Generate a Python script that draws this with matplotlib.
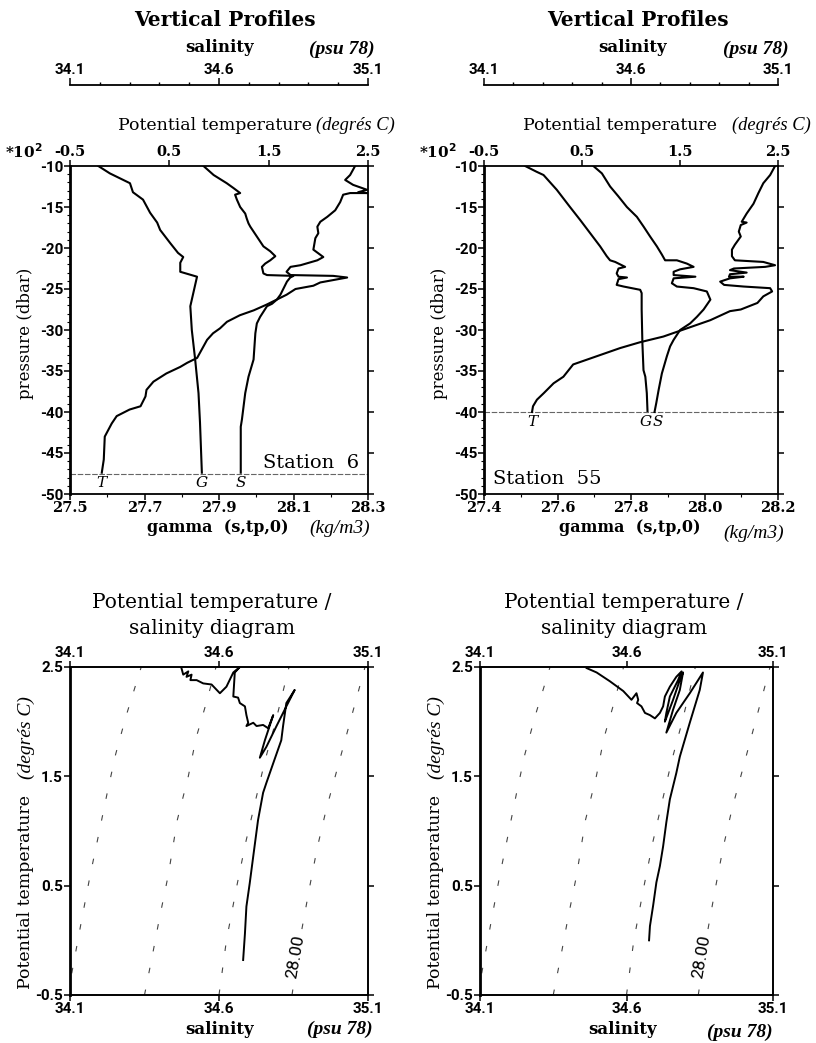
import matplotlib
matplotlib.use("Agg")
import matplotlib.pyplot as plt
from matplotlib.ticker import FixedLocator, MultipleLocator, FuncFormatter

plt.rcParams["axes.unicode_minus"] = False

SERIF = "DejaVu Serif"
SERIF_IT = "Liberation Serif"
NARROW = ["Liberation Sans Narrow", "Roboto", "DejaVu Sans"]
TICK_SIZE = 11

W, H = 816, 1043

# ---------------- Station 6 vertical profiles (pressure in 10^2 dbar) ----------------
st6_gamma = [27.576, 27.607, 27.661, 27.669, 27.696, 27.715, 27.734, 27.742, 27.769,
             27.790, 27.804, 27.796, 27.796, 27.841, 27.831, 27.823, 27.827, 27.836,
             27.845, 27.849, 27.854]
st6_gamma_p = [-10.0, -10.9, -12.1, -13.2, -14.1, -15.7, -16.9, -17.8, -19.4,
               -20.6, -21.1, -21.8, -22.9, -23.5, -25.5, -27.1, -30.0, -33.6,
               -37.7, -41.3, -47.4]

st6_sal = [34.548, 34.582, 34.626, 34.649, 34.671, 34.654, 34.660, 34.671, 34.688, 34.693,
           34.699, 34.705, 34.716, 34.727, 34.749, 34.772, 34.789, 34.772, 34.755, 34.744,
           34.749, 34.761, 34.850, 34.839, 34.828, 34.817, 34.806, 34.794, 34.778, 34.761,
           34.738, 34.727, 34.722, 34.716, 34.699, 34.688, 34.677, 34.673, 34.673]
st6_sal_p = [-10.0, -11.1, -12.1, -12.7, -13.3, -13.5, -14.1, -15.0, -15.8, -16.4,
             -17.0, -17.4, -18.0, -18.6, -19.8, -20.4, -21.0, -21.5, -21.9, -22.3,
             -23.1, -23.3, -23.4, -23.6, -24.1, -24.9, -25.7, -26.3, -26.8, -27.1,
             -28.4, -29.2, -30.4, -33.6, -35.7, -37.7, -40.9, -41.8, -47.4]

st6_theta = [2.37, 2.32, 2.27, 2.35, 2.49, 2.40, 2.49, 2.32, 2.25, 2.22,
             2.17, 2.09, 2.02, 1.99, 2.00, 1.97, 1.95, 2.05, 1.99, 1.82,
             1.72, 1.68, 1.72, 2.15, 2.29, 2.02, 1.95, 1.77, 1.68, 1.58,
             1.48, 1.35, 1.21, 1.08, 1.01, 0.94, 0.88, 0.78, 0.68, 0.61,
             0.47, 0.34, 0.27, 0.26, 0.21, 0.10, -0.03, -0.08, -0.15, -0.16, -0.18]
st6_theta_p = [-10.0, -11.1, -11.7, -12.3, -12.9, -13.2, -13.3, -13.3, -13.5, -14.4,
               -15.4, -16.2, -16.8, -17.4, -18.2, -18.8, -20.2, -21.1, -21.5, -22.1,
               -22.3, -22.9, -23.3, -23.4, -23.6, -24.2, -24.6, -25.0, -25.7, -26.3,
               -26.9, -27.6, -28.2, -29.0, -29.8, -30.4, -31.2, -33.4, -34.0, -34.5,
               -35.3, -36.3, -37.3, -38.1, -39.3, -39.7, -40.5, -41.4, -43.0, -45.8, -47.4]
st6_bottom = -47.5

# ---------------- Station 55 vertical profiles ----------------
st55_gamma = [27.512, 27.543, 27.562, 27.598, 27.634, 27.662, 27.689, 27.716, 27.734,
              27.743, 27.757, 27.784, 27.766, 27.761, 27.766, 27.789, 27.766, 27.761,
              27.780, 27.825, 27.829, 27.829, 27.831, 27.834, 27.839, 27.843, 27.845]
st55_gamma_p = [-10.0, -10.7, -11.1, -12.9, -15.0, -16.6, -18.2, -19.8, -21.0,
                -21.5, -21.7, -22.3, -22.5, -23.1, -23.5, -23.6, -23.8, -24.5,
                -24.7, -25.1, -25.5, -27.5, -31.6, -34.9, -35.7, -37.7, -40.0]

st55_sal = [34.472, 34.501, 34.529, 34.557, 34.586, 34.620, 34.643, 34.665, 34.688, 34.705,
            34.716, 34.756, 34.790, 34.813, 34.767, 34.745, 34.745, 34.819, 34.745, 34.739,
            34.756, 34.813, 34.858, 34.870, 34.847, 34.824, 34.801, 34.767, 34.745, 34.733,
            34.722, 34.705, 34.694, 34.686, 34.680]
st55_sal_p = [-10.0, -10.9, -12.5, -13.7, -15.0, -16.2, -17.4, -18.6, -19.8, -20.8,
              -21.5, -21.5, -21.9, -22.3, -22.6, -22.9, -23.3, -23.5, -23.7, -24.3,
              -24.7, -24.9, -25.3, -26.3, -27.5, -28.4, -29.2, -30.0, -31.2, -32.0,
              -33.2, -35.3, -37.3, -38.9, -40.0]

st55_theta = [2.47, 2.42, 2.35, 2.30, 2.25, 2.18, 2.15, 2.13, 2.18, 2.12,
              2.10, 2.12, 2.06, 2.03, 2.03, 2.06, 2.35, 2.47, 2.37, 2.05,
              2.01, 2.18, 2.01, 2.00, 2.15, 2.01, 1.91, 1.95, 2.15, 2.42,
              2.44, 2.35, 2.29, 2.12, 2.01, 1.81, 1.57, 1.33, 1.09, 0.89,
              0.65, 0.41, 0.31, 0.21, 0.11, 0.04, 0.00, -0.01]
st55_theta_p = [-10.0, -11.1, -12.1, -13.3, -14.6, -15.8, -16.4, -16.8, -16.9, -17.2,
                -18.0, -18.6, -19.6, -20.2, -21.0, -21.5, -21.7, -22.1, -22.3, -22.5,
                -22.7, -23.0, -23.2, -23.5, -23.5, -23.7, -24.1, -24.5, -24.7, -24.9,
                -25.3, -25.9, -26.7, -27.5, -27.7, -28.8, -29.8, -30.8, -31.5, -32.2,
                -33.2, -34.2, -35.7, -36.5, -37.7, -38.5, -39.3, -40.0]
st55_bottom = -40.0

# ---------------- Theta / salinity curves ----------------
ts6_sal = [34.474, 34.480, 34.497, 34.491, 34.508, 34.504, 34.525, 34.547, 34.575, 34.603,
           34.625, 34.648, 34.670, 34.653, 34.648, 34.664, 34.670, 34.687, 34.692, 34.698,
           34.692, 34.715, 34.726, 34.748, 34.765, 34.782, 34.754, 34.737, 34.759, 34.793,
           34.826, 34.854, 34.826, 34.815, 34.809, 34.782, 34.759, 34.748, 34.731, 34.715,
           34.703, 34.692, 34.687, 34.681]
ts6_theta = [2.49, 2.43, 2.46, 2.41, 2.43, 2.38, 2.38, 2.35, 2.34, 2.26,
             2.32, 2.45, 2.50, 2.45, 2.23, 2.22, 2.17, 2.14, 2.06, 1.99,
             1.96, 1.99, 1.96, 1.97, 1.94, 2.06, 1.83, 1.67, 1.77, 1.96,
             2.14, 2.29, 2.17, 1.96, 1.83, 1.62, 1.44, 1.35, 1.10, 0.77,
             0.52, 0.31, 0.06, -0.18]

ts55_sal = [34.464, 34.498, 34.543, 34.589, 34.617, 34.634, 34.640, 34.636, 34.651, 34.663,
            34.680, 34.697, 34.714, 34.725, 34.731, 34.748, 34.770, 34.788, 34.776, 34.748,
            34.736, 34.731, 34.759, 34.782, 34.793, 34.782, 34.759, 34.736, 34.770, 34.816,
            34.861, 34.850, 34.816, 34.782, 34.770, 34.748, 34.736, 34.725, 34.714, 34.702,
            34.691, 34.680, 34.677]
ts55_theta = [2.49, 2.45, 2.37, 2.28, 2.20, 2.26, 2.20, 2.17, 2.14, 2.08,
              2.06, 2.03, 2.08, 2.14, 2.23, 2.32, 2.41, 2.46, 2.38, 2.23,
              2.08, 2.00, 2.20, 2.38, 2.45, 2.29, 2.11, 1.90, 2.08, 2.26,
              2.45, 2.29, 1.99, 1.68, 1.53, 1.29, 1.08, 0.86, 0.68, 0.53,
              0.32, 0.13, 0.00]

# neutral-density isolines on the theta/S plane
iso_a_sal = [34.090, 34.106, 34.140, 34.168, 34.191, 34.225, 34.253, 34.288, 34.339]
iso_a_theta = [-0.5, -0.3, 0.2, 0.6, 0.9, 1.35, 1.7, 2.05, 2.5]
iso_b_sal = [34.350, 34.377, 34.400, 34.430, 34.460, 34.497, 34.523, 34.555, 34.590]
iso_b_theta = [-0.5, -0.13, 0.2, 0.6, 1.1, 1.5, 1.85, 2.15, 2.5]
iso_c_sal = [34.600, 34.625, 34.660, 34.690, 34.720, 34.755, 34.790, 34.835]
iso_c_theta = [-0.5, 0.0, 0.5, 0.9, 1.25, 1.65, 2.0, 2.5]
iso_d_sal = [34.845, 34.878, 34.905, 34.930, 34.960, 34.990, 35.020, 35.060, 35.090]
iso_d_theta = [-0.5, 0.1, 0.5, 0.85, 1.2, 1.5, 1.8, 2.2, 2.5]
iso_d_label = "28.00"

SAL_LIM = (34.1, 35.1)
SAL_TICKS = [34.1, 34.6, 35.1]
THETA_LIM = (-0.5, 2.5)
THETA_TICKS = [-0.5, 0.5, 1.5, 2.5]
P_TICKS = [-10, -15, -20, -25, -30, -35, -40, -45, -50]

fig = plt.figure(figsize=(W / 100, H / 100), dpi=100)


def frect(x0, y0, x1, y1):
    """Pixel box (top-left origin) -> figure fraction rect."""
    return [x0 / W, 1 - y1 / H, (x1 - x0) / W, (y1 - y0) / H]


def ftext(x, y, s, **kw):
    fig.text(x / W, 1 - y / H, s, **kw)


def fmt1(v, _pos=None):
    return f"{v:.1f}"


def style_labels(labels, family, size, weight="bold"):
    for lab in labels:
        lab.set_fontfamily(family)
        lab.set_fontweight(weight)
        lab.set_fontsize(size)


def profile_panel(px0, px1, glim, gticks, g, gp, th, thp, sal, salp, pbottom,
                  station, st_xy, st_ha, letters):
    ax = fig.add_axes(frect(px0, 166, px1, 494))
    ax.set_xlim(*glim)
    ax.set_ylim(-50, -10)
    for side in ("top", "right", "bottom"):
        ax.spines[side].set_linewidth(1.3)
    ax.spines["left"].set_linewidth(2.0)
    ax.xaxis.set_major_locator(FixedLocator(gticks))
    ax.xaxis.set_minor_locator(MultipleLocator(0.1))
    ax.xaxis.set_major_formatter(FuncFormatter(fmt1))
    ax.yaxis.set_major_locator(FixedLocator(P_TICKS))
    ax.yaxis.set_minor_locator(MultipleLocator(1))
    ax.yaxis.set_major_formatter(FuncFormatter(lambda v, p: f"{int(round(v))}"))
    ax.tick_params(axis="both", which="major", direction="out", length=4, width=1.1)
    ax.tick_params(axis="both", which="minor", direction="out", length=2, width=0.8)
    ax.tick_params(axis="x", which="both", pad=1)
    ax.tick_params(axis="y", which="both", right=True, pad=1)
    ax.tick_params(axis="y", which="minor", right=False)
    style_labels(ax.get_xticklabels(), SERIF, 10.5)
    style_labels(ax.get_yticklabels(), NARROW, TICK_SIZE)

    ax.plot(g, gp, color="black", lw=1.5, solid_joinstyle="round")
    ax.axhline(pbottom, color="#666666", lw=0.8, ls=(0, (5, 1.5)))

    # potential temperature on the top axis
    axt = ax.twiny()
    axt.set_xlim(*THETA_LIM)
    axt.xaxis.set_major_locator(FixedLocator(THETA_TICKS))
    axt.xaxis.set_major_formatter(FuncFormatter(fmt1))
    axt.tick_params(axis="x", direction="out", length=4, width=1.1, pad=1)
    style_labels(axt.get_xticklabels(), SERIF, 10.5)
    for sp in axt.spines.values():
        sp.set_visible(False)
    axt.plot(th, thp, color="black", lw=1.5, solid_joinstyle="round")

    # salinity drawn against its own scale
    axs = ax.twiny()
    axs.set_xlim(*SAL_LIM)
    axs.set_axis_off()
    axs.plot(sal, salp, color="black", lw=1.5, solid_joinstyle="round")

    # separate salinity scale bar above the panel
    sb = fig.add_axes(frect(px0, 85, px1, 86))
    sb.set_xlim(*SAL_LIM)
    sb.set_yticks([])
    for side in ("left", "right", "bottom"):
        sb.spines[side].set_visible(False)
    sb.spines["top"].set_linewidth(1.3)
    sb.patch.set_alpha(0)
    sb.xaxis.tick_top()
    sb.xaxis.set_major_locator(FixedLocator(SAL_TICKS))
    sb.xaxis.set_minor_locator(MultipleLocator(0.1))
    sb.xaxis.set_major_formatter(FuncFormatter(fmt1))
    sb.tick_params(axis="x", which="major", direction="out", length=5, width=1.1, pad=1)
    sb.tick_params(axis="x", which="minor", direction="out", length=2.5, width=1.0)
    style_labels(sb.get_xticklabels(), NARROW, TICK_SIZE)

    ax.text(st_xy[0], st_xy[1], station, transform=ax.transAxes, ha=st_ha,
            va="center", family=SERIF, fontsize=14)

    ylab = pbottom - 1.2
    lt, lg, ls = letters
    axt.text(th[-1] + lt, ylab, "T", ha="center", va="center", family=SERIF,
             style="italic", fontsize=11)
    ax.text(g[-1] + lg, ylab, "G", ha="center", va="center", family=SERIF,
            style="italic", fontsize=11)
    axs.text(sal[-1] + ls, ylab, "S", ha="center", va="center", family=SERIF,
             style="italic", fontsize=11)
    return ax


def ts_panel(px0, px1, sal, th):
    ax = fig.add_axes(frect(px0, 667, px1, 995))
    ax.set_xlim(*SAL_LIM)
    ax.set_ylim(*THETA_LIM)
    for side in ("top", "right", "bottom"):
        ax.spines[side].set_linewidth(1.4)
    ax.spines["left"].set_linewidth(2.0)
    ax.xaxis.set_major_locator(FixedLocator(SAL_TICKS))
    ax.xaxis.set_major_formatter(FuncFormatter(fmt1))
    ax.yaxis.set_major_locator(FixedLocator(THETA_TICKS))
    ax.yaxis.set_major_formatter(FuncFormatter(fmt1))
    ax.tick_params(axis="both", direction="out", length=4, width=1.1, pad=1)
    ax.tick_params(axis="x", top=True, labeltop=True)
    ax.tick_params(axis="y", right=True)
    style_labels(ax.get_xticklabels(which="both") + ax.get_yticklabels(), NARROW, TICK_SIZE)

    for s_line, t_line in ((iso_a_sal, iso_a_theta), (iso_b_sal, iso_b_theta),
                           (iso_c_sal, iso_c_theta), (iso_d_sal, iso_d_theta)):
        ax.plot(s_line, t_line, color="#444444", lw=0.8, ls=(0, (5, 15)))
    ax.text(34.856, -0.15, iso_d_label, rotation=80, ha="center", va="center",
            family=NARROW, fontsize=12.5,
            bbox=dict(facecolor="white", edgecolor="none", pad=0.5))

    ax.plot(sal, th, color="black", lw=1.4, solid_joinstyle="round")
    return ax


# ---------------- top row: vertical profiles ----------------
profile_panel(70, 368, (27.5, 28.3), [27.5, 27.7, 27.9, 28.1, 28.3],
              st6_gamma, st6_gamma_p, st6_theta, st6_theta_p, st6_sal, st6_sal_p,
              st6_bottom, "Station  6", (0.97, 0.095), "right", (0.0, 0.0, 0.0))
profile_panel(484, 778, (27.4, 28.2), [27.4, 27.6, 27.8, 28.0, 28.2],
              st55_gamma, st55_gamma_p, st55_theta, st55_theta_p, st55_sal, st55_sal_p,
              st55_bottom, "Station  55", (0.03, 0.045), "left", (0.0, -0.005, 0.012))

for cx, off, px, dx in ((220, 0, 118, 316), (633, 414, 523, 732)):
    ftext(cx + 5, 20, "Vertical Profiles", ha="center", va="center", family=SERIF,
          fontsize=14.5, weight="bold")
    ftext(cx, 48, "salinity", ha="center", va="center", family=SERIF,
          fontsize=12, weight="bold")
    ftext(342 + off, 49, "(psu 78)", ha="center", va="center", family=SERIF_IT,
          fontsize=14, style="italic", weight="bold")
    ftext(px, 125, "Potential temperature", ha="left", va="center",
          family=SERIF, fontsize=12.5)
    ftext(dx, 125, "(degrés C)", ha="left", va="center", family=SERIF_IT,
          fontsize=13.3, style="italic")
    ftext(24 + off, 152, r"*10$^{\mathbf{2}}$", ha="center", va="center",
          family=SERIF, fontsize=11, weight="bold")
    ftext(26 + off, 333, "pressure (dbar)", ha="center", va="center",
          family=SERIF, fontsize=12, rotation=90)

ftext(218, 527, "gamma  (s,tp,0)", ha="center", va="center", family=SERIF,
      fontsize=11.5, weight="bold")
ftext(340, 528, "(kg/m3)", ha="center", va="center", family=SERIF_IT, fontsize=14,
      style="italic")
ftext(630, 527, "gamma  (s,tp,0)", ha="center", va="center", family=SERIF,
      fontsize=11.5, weight="bold")
ftext(754, 533, "(kg/m3)", ha="center", va="center", family=SERIF_IT, fontsize=14,
      style="italic")

# ---------------- bottom row: theta / S diagrams ----------------
ts_panel(70, 368, ts6_sal, ts6_theta)
ts_panel(480, 773, ts55_sal, ts55_theta)

for cx, off in ((212, 0), (624, 410)):
    ftext(cx, 603, "Potential temperature /", ha="center", va="center",
          family=SERIF, fontsize=14.5)
    ftext(cx, 628, "salinity diagram", ha="center", va="center",
          family=SERIF, fontsize=14.5)
    ftext(26 + off, 892, "Potential temperature", ha="center", va="center",
          family=SERIF, fontsize=12.5, rotation=90)
    ftext(26 + off, 738, "(degrés C)", ha="center", va="center",
          family=SERIF_IT, fontsize=14, rotation=90, style="italic")

ftext(220, 1029, "salinity", ha="center", va="center", family=SERIF, fontsize=12,
      weight="bold")
ftext(340, 1029, "(psu 78)", ha="center", va="center", family=SERIF_IT, fontsize=14,
      style="italic", weight="bold")
ftext(623, 1030, "salinity", ha="center", va="center", family=SERIF, fontsize=12,
      weight="bold")
ftext(740, 1032, "(psu 78)", ha="center", va="center", family=SERIF_IT, fontsize=14,
      style="italic", weight="bold")

fig.savefig("out.png", dpi=100, facecolor="white")
